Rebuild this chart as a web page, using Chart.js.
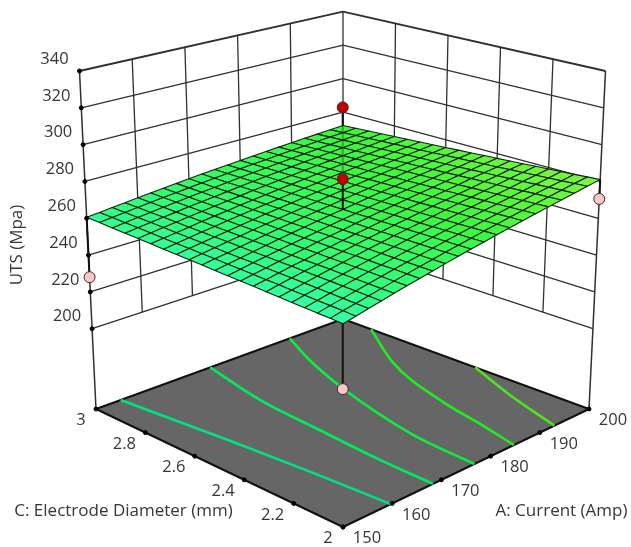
<!DOCTYPE html>
<html>
<head>
<meta charset="utf-8">
<title>UTS response surface</title>
<script src="https://cdn.jsdelivr.net/npm/chart.js@4"></script>
<style>
    html, body { margin: 0; padding: 0; background: #fff; }
    canvas { display: block; filter: blur(0.4px); }
</style>
</head>
<body>
<canvas id="surface-chart" width="631" height="547"></canvas>
<script>
const currentTicks = [150, 160, 170, 180, 190, 200];
const diameterTicks = [2, 2.2, 2.4, 2.6, 2.8, 3];
const diameterLabels = ['2', '2.2', '2.4', '2.6', '2.8', '3'];
const utsTicks = [200, 220, 240, 260, 280, 300, 320, 340];

// surface mesh, one row per diameter (2 to 3), one column per current (150 to 200)
const meshCurrent = [150, 152.5, 155, 157.5, 160, 162.5, 165, 167.5, 170, 172.5, 175, 177.5, 180, 182.5, 185, 187.5, 190, 192.5, 195, 197.5, 200];
const meshDiameter = [2, 2.05, 2.1, 2.15, 2.2, 2.25, 2.3, 2.35, 2.4, 2.45, 2.5, 2.55, 2.6, 2.65, 2.7, 2.75, 2.8, 2.85, 2.9, 2.95, 3];
const meshUts = [
    [257.5, 258.8, 260.1, 261.4, 262.7, 264.0, 265.2, 266.5, 267.7, 268.9, 270.1, 271.2, 272.4, 273.5, 274.6, 275.7, 276.8, 277.9, 278.9, 280.0, 281.0],
    [257.7, 259.0, 260.2, 261.5, 262.7, 264.0, 265.2, 266.4, 267.6, 268.8, 269.9, 271.0, 272.2, 273.3, 274.4, 275.4, 276.5, 277.5, 278.6, 279.6, 280.6],
    [257.8, 259.1, 260.3, 261.6, 262.8, 264.0, 265.2, 266.3, 267.5, 268.6, 269.8, 270.9, 271.9, 273.0, 274.1, 275.1, 276.2, 277.2, 278.2, 279.1, 280.1],
    [258.0, 259.2, 260.4, 261.6, 262.8, 264.0, 265.1, 266.3, 267.4, 268.5, 269.6, 270.7, 271.7, 272.8, 273.8, 274.8, 275.8, 276.8, 277.8, 278.7, 279.7],
    [258.1, 259.3, 260.5, 261.7, 262.8, 264.0, 265.1, 266.2, 267.3, 268.4, 269.5, 270.5, 271.5, 272.6, 273.5, 274.5, 275.5, 276.4, 277.4, 278.3, 279.2],
    [258.3, 259.4, 260.6, 261.7, 262.9, 264.0, 265.1, 266.2, 267.2, 268.3, 269.3, 270.3, 271.3, 272.3, 273.3, 274.2, 275.2, 276.1, 277.0, 277.9, 278.8],
    [258.4, 259.6, 260.7, 261.8, 262.9, 264.0, 265.0, 266.1, 267.1, 268.2, 269.2, 270.1, 271.1, 272.1, 273.0, 273.9, 274.8, 275.7, 276.6, 277.5, 278.3],
    [258.6, 259.7, 260.8, 261.9, 262.9, 264.0, 265.0, 266.0, 267.0, 268.0, 269.0, 270.0, 270.9, 271.8, 272.7, 273.6, 274.5, 275.4, 276.2, 277.0, 277.9],
    [258.7, 259.8, 260.9, 261.9, 262.9, 264.0, 265.0, 266.0, 266.9, 267.9, 268.9, 269.8, 270.7, 271.6, 272.5, 273.3, 274.2, 275.0, 275.8, 276.6, 277.4],
    [258.9, 259.9, 261.0, 262.0, 263.0, 264.0, 264.9, 265.9, 266.9, 267.8, 268.7, 269.6, 270.5, 271.4, 272.2, 273.0, 273.8, 274.6, 275.4, 276.2, 277.0],
    [259.0, 260.0, 261.0, 262.0, 263.0, 264.0, 264.9, 265.9, 266.8, 267.7, 268.6, 269.4, 270.3, 271.1, 271.9, 272.7, 273.5, 274.3, 275.0, 275.8, 276.5],
    [259.2, 260.2, 261.1, 262.1, 263.0, 264.0, 264.9, 265.8, 266.7, 267.5, 268.4, 269.2, 270.1, 270.9, 271.7, 272.4, 273.2, 273.9, 274.6, 275.4, 276.1],
    [259.3, 260.3, 261.2, 262.2, 263.1, 264.0, 264.9, 265.7, 266.6, 267.4, 268.3, 269.1, 269.9, 270.6, 271.4, 272.1, 272.9, 273.6, 274.3, 274.9, 275.6],
    [259.5, 260.4, 261.3, 262.2, 263.1, 264.0, 264.8, 265.7, 266.5, 267.3, 268.1, 268.9, 269.6, 270.4, 271.1, 271.8, 272.5, 273.2, 273.9, 274.5, 275.2],
    [259.6, 260.5, 261.4, 262.3, 263.1, 264.0, 264.8, 265.6, 266.4, 267.2, 268.0, 268.7, 269.4, 270.2, 270.8, 271.5, 272.2, 272.8, 273.5, 274.1, 274.7],
    [259.8, 260.6, 261.5, 262.3, 263.2, 264.0, 264.8, 265.6, 266.3, 267.1, 267.8, 268.5, 269.2, 269.9, 270.6, 271.2, 271.9, 272.5, 273.1, 273.7, 274.3],
    [259.9, 260.8, 261.6, 262.4, 263.2, 264.0, 264.7, 265.5, 266.2, 267.0, 267.7, 268.3, 269.0, 269.7, 270.3, 270.9, 271.5, 272.1, 272.7, 273.3, 273.8],
    [260.1, 260.9, 261.7, 262.5, 263.2, 264.0, 264.7, 265.4, 266.1, 266.8, 267.5, 268.2, 268.8, 269.4, 270.0, 270.6, 271.2, 271.8, 272.3, 272.8, 273.4],
    [260.2, 261.0, 261.8, 262.5, 263.3, 264.0, 264.7, 265.4, 266.0, 266.7, 267.4, 268.0, 268.6, 269.2, 269.8, 270.3, 270.9, 271.4, 271.9, 272.4, 272.9],
    [260.4, 261.1, 261.9, 262.6, 263.3, 264.0, 264.6, 265.3, 266.0, 266.6, 267.2, 267.8, 268.4, 268.9, 269.5, 270.0, 270.5, 271.0, 271.5, 272.0, 272.5],
    [260.5, 261.2, 261.9, 262.6, 263.3, 264.0, 264.6, 265.3, 265.9, 266.5, 267.1, 267.6, 268.2, 268.7, 269.2, 269.7, 270.2, 270.7, 271.1, 271.6, 272.0]
];

// contour lines on the floor
const contourCurrent = [
    [155.0, 157.4, 158.7, 159.7],
    [173.1, 170.3, 169.3, 168.5, 168.3],
    [189.25, 185.65, 181.85, 177.65, 176.7],
    [200, 193.5, 188.3, 186.7, 184.75],
    [200, 196.25, 192.95]
];
const contourDiameter = [
    [3, 2.6, 2.31, 2],
    [3, 2.74, 2.48, 2.23, 2],
    [3, 2.85, 2.64, 2.28, 2],
    [2.886, 2.67, 2.36, 2.19, 2],
    [2.463, 2.245, 2]
];
const contourColors = ['#00e47e', '#00ec5e', '#0cee40', '#1cee22', '#4ce61c'];

// design points that stick out of the surface
const pointCurrent = [175, 175, 175, 150, 200];
const pointDiameter = [2.5, 2.5, 2.5, 3, 2];
const pointUts = [324, 285, 171, 228, 270.5];
const pointColors = ['#c00000', '#c00000', '#f8c8c8', '#f8c8c8', '#f8c8c8'];

const floorUts = 156.4;
const topUts = 340;

// screen position of the eight box corners
const cornerFloor = { front: [343, 527], right: [589, 409], left: [96, 409], back: [343, 319] };
const cornerTop = { front: [343, 158], right: [605.5, 71], left: [79.5, 71], back: [343, 11.7] };

function project(current, diameter, uts) {
    const u = (current - 150) / 50;
    const v = diameter - 2;
    const t = (uts - floorUts) / (topUts - floorUts);
    const out = {};
    ['x', 'y'].forEach(function (key, i) {
        const low = (1 - u) * (1 - v) * cornerFloor.front[i] + u * (1 - v) * cornerFloor.right[i] +
            (1 - u) * v * cornerFloor.left[i] + u * v * cornerFloor.back[i];
        const high = (1 - u) * (1 - v) * cornerTop.front[i] + u * (1 - v) * cornerTop.right[i] +
            (1 - u) * v * cornerTop.left[i] + u * v * cornerTop.back[i];
        out[key] = low + (high - low) * t;
    });
    return out;
}

function surfaceColor(uts) {
    const stops = [
        [257, 54, 255, 172],
        [262, 50, 252, 132],
        [268, 56, 250, 92],
        [272, 60, 248, 62],
        [281, 128, 246, 60]
    ];
    for (let i = 1; i < stops.length; i++) {
        if (uts <= stops[i][0]) {
            const f = Math.max(0, (uts - stops[i - 1][0]) / (stops[i][0] - stops[i - 1][0]));
            const c = [1, 2, 3].map(function (k) {
                return Math.round(stops[i - 1][k] + (stops[i][k] - stops[i - 1][k]) * f);
            });
            return 'rgb(' + c.join(',') + ')';
        }
    }
    return 'rgb(128,246,60)';
}

const datasets = [];

function addLine(points, color, width, smooth) {
    datasets.push({
        data: points,
        showLine: true,
        borderColor: color,
        borderWidth: width,
        cubicInterpolationMode: smooth ? 'monotone' : 'default',
        pointRadius: 0,
        fill: false,
        order: -datasets.length
    });
}

function addShape(points, fillColor, lineColor, width) {
    datasets.push({
        data: points.concat([points[0]]),
        showLine: true,
        borderColor: lineColor,
        borderWidth: width,
        backgroundColor: fillColor,
        borderJoinStyle: 'round',
        pointRadius: 0,
        fill: 'shape',
        order: -datasets.length
    });
}

function addDots(points, fillColor, lineColor, radius) {
    datasets.push({
        data: points,
        showLine: false,
        pointRadius: radius,
        pointBackgroundColor: fillColor,
        pointBorderColor: lineColor,
        pointBorderWidth: 1,
        order: -datasets.length
    });
}

const gridColor = '#303030';

// left and right walls
utsTicks.forEach(function (z) {
    const w = z === topUts ? 1.8 : 1.3;
    addLine([project(150, 3, z), project(200, 3, z)], gridColor, w);
    addLine([project(200, 3, z), project(200, 2, z)], gridColor, w);
});
currentTicks.slice(1, 5).forEach(function (a) {
    addLine([project(a, 3, 200), project(a, 3, topUts)], gridColor, 1.3);
});
diameterTicks.slice(1, 5).forEach(function (c) {
    addLine([project(200, c, 200), project(200, c, topUts)], gridColor, 1.3);
});
addLine([project(150, 3, floorUts), project(150, 3, topUts)], gridColor, 1.5);
addLine([project(200, 2, floorUts), project(200, 2, topUts)], gridColor, 1.5);
addLine([project(200, 3, floorUts), project(200, 3, topUts)], gridColor, 1.3);

// floor with its contours
addShape([project(150, 2, floorUts), project(200, 2, floorUts), project(200, 3, floorUts), project(150, 3, floorUts)], '#666666', '#111111', 2);
contourCurrent.forEach(function (list, i) {
    const line = list.map(function (a, k) { return project(a, contourDiameter[i][k], floorUts); });
    addLine(line, contourColors[i], 2.6, true);
});

// stems and markers that sit behind the surface
addLine([project(175, 2.5, pointUts[0]), project(175, 2.5, pointUts[1])], '#111111', 2);
addLine([project(175, 2.5, 268.6), project(175, 2.5, pointUts[2])], '#111111', 2);
addLine([project(150, 3, 260.5), project(150, 3, pointUts[3])], '#111111', 2);
addLine([project(200, 2, 281), project(200, 2, pointUts[4])], '#111111', 2);

// surface, far cells first
for (let r = meshDiameter.length - 2; r >= 0; r--) {
    for (let c = meshCurrent.length - 2; c >= 0; c--) {
        const mean = (meshUts[r][c] + meshUts[r][c + 1] + meshUts[r + 1][c] + meshUts[r + 1][c + 1]) / 4;
        addShape([
            project(meshCurrent[c], meshDiameter[r], meshUts[r][c]),
            project(meshCurrent[c + 1], meshDiameter[r], meshUts[r][c + 1]),
            project(meshCurrent[c + 1], meshDiameter[r + 1], meshUts[r + 1][c + 1]),
            project(meshCurrent[c], meshDiameter[r + 1], meshUts[r + 1][c])
        ], surfaceColor(mean), '#10240f', 1.1);
    }
}

// the stem above the centre shows through the mesh
addLine([project(175, 2.5, 268.6), project(175, 2.5, pointUts[1])], '#111111', 2);
addLine([project(175, 2.5, pointUts[1]), project(175, 2.5, pointUts[0])], 'rgba(20,20,20,0.35)', 2);

// axis ticks
addDots(utsTicks.map(function (z) { return project(150, 3, z); }), '#000', '#000', 2);
addDots(currentTicks.map(function (a) { return project(a, 2, floorUts); }), '#000', '#000', 2);
addDots(diameterTicks.map(function (c) { return project(150, c, floorUts); }), '#000', '#000', 2);

addDots(pointUts.map(function (z, i) {
    return project(pointCurrent[i], pointDiameter[i], z);
}), pointColors, '#3a2a2a', 5.5);

const axisText = {
    id: 'axisText',
    afterDraw: function (chart) {
        const ctx = chart.ctx;
        const sx = chart.scales.x;
        const sy = chart.scales.y;
        function label(text, p, dx, dy) {
            ctx.fillText(text, sx.getPixelForValue(p.x) + dx, sy.getPixelForValue(p.y) + dy);
        }
        ctx.save();
        ctx.fillStyle = '#363636';
        ctx.textAlign = 'center';
        ctx.textBaseline = 'middle';
        ctx.font = '16.5px "Open Sans"';
        utsTicks.forEach(function (z) {
            label(String(z), project(150, 3, z), -25, -12);
        });
        currentTicks.forEach(function (a) {
            label(String(a), project(a, 2, floorUts), 24, 11.5);
        });
        diameterTicks.forEach(function (c, i) {
            const end = i === 0 || i === diameterTicks.length - 1;
            label(diameterLabels[i], project(150, c, floorUts), end ? -15 : -21, 11.5);
        });
        ctx.font = '17px "Open Sans"';
        ctx.fillText('C: Electrode Diameter (mm)', 123.5, 511.5);
        ctx.fillText('A: Current (Amp)', 561.5, 511.5);
        ctx.translate(17, 245);
        ctx.rotate(-Math.PI / 2);
        ctx.fillText('UTS (Mpa)', 0, 0);
        ctx.restore();
    }
};

new Chart(document.getElementById('surface-chart'), {
    type: 'scatter',
    data: { datasets: datasets },
    options: {
        responsive: false,
        animation: false,
        layout: { padding: 0, autoPadding: false },
        plugins: { legend: { display: false }, tooltip: { enabled: false } },
        scales: {
            x: { type: 'linear', min: 0, max: 631, display: false },
            y: { type: 'linear', min: 0, max: 547, reverse: true, display: false }
        }
    },
    plugins: [axisText]
});
</script>
</body>
</html>
